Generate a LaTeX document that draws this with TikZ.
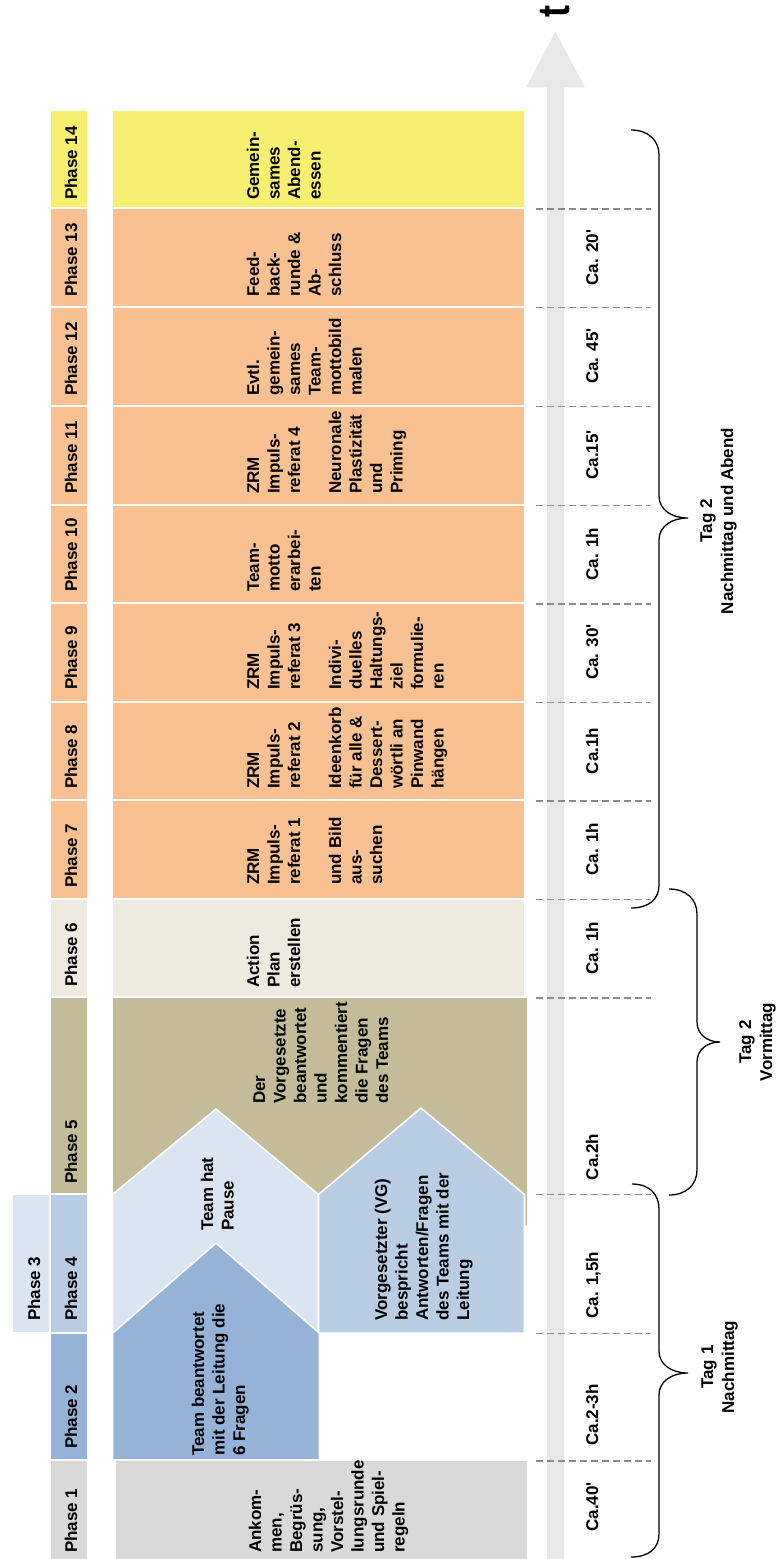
\documentclass[tikz,border=0pt]{standalone}
\usepackage{fontspec}
\setmainfont{Liberation Sans}
\newfontfamily\planfont{Liberation Sans}
\newcommand\planlines[1]{\parbox[t]{300pt}{\raggedright #1}}
\newcommand\plancenter[1]{\parbox[t]{300pt}{\centering #1}}

\definecolor{cYellow}{HTML}{F6EF6F}
\definecolor{cOrange}{HTML}{F9C191}
\definecolor{cBeige}{HTML}{EDEBE0}
\definecolor{cKhaki}{HTML}{C4BC98}
\definecolor{cBlueL}{HTML}{DBE5F1}
\definecolor{cBlueM}{HTML}{B9CDE5}
\definecolor{cBlueD}{HTML}{95B3D7}
\definecolor{cGray}{HTML}{D9D9D9}
\definecolor{cArrow}{HTML}{E8E8E8}
\definecolor{cDash}{HTML}{8C8C8C}

\begin{document}
\begin{tikzpicture}[x=1pt,y=-1pt,
  box/.style={draw=white, line width=1.6pt},
  plantext/.style={rotate=90, anchor=base west, inner sep=0pt,
    font=\planfont\bfseries\fontsize{17}{20.5}\selectfont},
  timetext/.style={rotate=90, anchor=base, inner sep=0pt,
    font=\planfont\bfseries\fontsize{17}{20.5}\selectfont},
  daytext/.style={rotate=90, anchor=base, inner sep=0pt,
    font=\planfont\bfseries\fontsize{17}{21}\selectfont},
  dashline/.style={draw=cDash, line width=1.8pt, dash pattern=on 7pt off 4pt},
  bracepath/.style={draw=black, line width=1.3pt}]

\useasboundingbox (0,0) rectangle (780,1559);

% time axis
\fill[cArrow] (547,1559) -- (547,87.3) -- (526,87.3) -- (555.5,31.7)
  -- (585,87.3) -- (564,87.3) -- (564,1559) -- cycle;
\node[rotate=90, anchor=base, inner sep=0pt] (taxis) at (569,11.5)
  {\scalebox{0.8}[1]{\fontsize{45}{45}\selectfont\bfseries t}};

% phase label column
\path[box, fill=cYellow] (50,110.2) rectangle (88,208.2);
\path[box, fill=cOrange] (50,208.2) rectangle (88,306.7);
\path[box, fill=cOrange] (50,306.7) rectangle (88,405.7);
\path[box, fill=cOrange] (50,405.7) rectangle (88,504.7);
\path[box, fill=cOrange] (50,504.7) rectangle (88,603.2);
\path[box, fill=cOrange] (50,603.2) rectangle (88,701.7);
\path[box, fill=cOrange] (50,701.7) rectangle (88,800.2);
\path[box, fill=cOrange] (50,800.2) rectangle (88,898.7);
\path[box, fill=cBeige]  (50,898.7) rectangle (88,997.2);
\path[box, fill=cKhaki]  (50,997.2) rectangle (88,1194.2);
\path[box, fill=cBlueM]  (50,1194.2) rectangle (88,1333.2);
\path[box, fill=cBlueL]  (12.5,1194.2) rectangle (50,1333.2);
\path[box, fill=cBlueD]  (50,1333.2) rectangle (88,1460.2);
\path[box, fill=cGray]   (50,1460.2) rectangle (88,1565);

% activity blocks
\path[box, fill=cYellow] (112.5,110.2) rectangle (524.5,208.2);
\path[box, fill=cOrange] (112.5,208.2) rectangle (524.5,306.7);
\path[box, fill=cOrange] (112.5,306.7) rectangle (524.5,405.7);
\path[box, fill=cOrange] (112.5,405.7) rectangle (524.5,504.7);
\path[box, fill=cOrange] (112.5,504.7) rectangle (524.5,603.2);
\path[box, fill=cOrange] (112.5,603.2) rectangle (524.5,701.7);
\path[box, fill=cOrange] (112.5,701.7) rectangle (524.5,800.2);
\path[box, fill=cOrange] (112.5,800.2) rectangle (524.5,898.7);
\path[box, fill=cBeige]  (112.5,898.7) rectangle (524.5,997.2);
\path[box, fill=cKhaki]  (112.5,997.2) rectangle (527.5,1226);
\path[box, fill=cBlueL] (112.5,1333.2) -- (112.5,1194.5) -- (216,1109)
  -- (318.5,1194.5) -- (318.5,1333.2) -- cycle;
\path[box, fill=cBlueM] (318.5,1333.2) -- (318.5,1194.5) -- (421,1108)
  -- (524.5,1194.5) -- (524.5,1333.2) -- cycle;
\path[box, fill=cBlueD] (112.5,1460.2) -- (112.5,1333.2) -- (216,1243)
  -- (319.5,1333.2) -- (319.5,1460.2) -- cycle;
\path[box, fill=cGray] (115,1460.2) rectangle (527.5,1565);

% phase labels
\node[plantext] (p14) at (77,200) {Phase 14};
\node[plantext] (p13) at (77,297) {Phase 13};
\node[plantext] (p12) at (77,396) {Phase 12};
\node[plantext] (p11) at (77,494) {Phase 11};
\node[plantext] (p10) at (77,592) {Phase 10};
\node[plantext] (p9)  at (77,690) {Phase 9};
\node[plantext] (p8)  at (77,789) {Phase 8};
\node[plantext] (p7)  at (77,888) {Phase 7};
\node[plantext] (p6)  at (77,987) {Phase 6};
\node[plantext] (p5)  at (77,1184) {Phase 5};
\node[plantext] (p4)  at (77,1321) {Phase 4};
\node[plantext] (p3)  at (40,1321) {Phase 3};
\node[plantext] (p2)  at (77,1449) {Phase 2};
\node[plantext] (p1)  at (77,1553) {Phase 1};

% activity texts
\node[plantext] (a14) at (259,200) {\planlines{Gemein-\\sames\\Abend-\\essen}};
\node[plantext] (a13) at (259,297) {\planlines{Feed-\\back-\\runde \&\\Ab-\\schluss}};
\node[plantext] (a12) at (259,396) {\planlines{Evtl.\\gemein-\\sames\\Team-\\mottobild\\malen}};
\node[plantext] (a11) at (259,494) {\planlines{ZRM\\Impuls-\\referat 4\\[20.5pt]Neuronale\\Plastizität\\und\\Priming}};
\node[plantext] (a10) at (259,592) {\planlines{Team-\\motto\\erarbei-\\ten}};
\node[plantext] (a9)  at (259,690) {\planlines{ZRM\\Impuls-\\referat 3\\[20.5pt]Indivi-\\duelles\\Haltungs-\\ziel\\formulie-\\ren}};
\node[plantext] (a8)  at (259,789) {\planlines{ZRM\\Impuls-\\referat 2\\[20.5pt]Ideenkorb\\für alle \&\\Dessert-\\wörtli an\\Pinwand\\hängen}};
\node[plantext] (a7)  at (259,885) {\planlines{ZRM\\Impuls-\\referat 1\\[20.5pt]und Bild\\aus-\\suchen}};
\node[plantext] (a6)  at (259,988) {\planlines{Action\\Plan\\erstellen}};
\node[plantext] (a5)  at (265,1104) {\planlines{Der\\Vorgesetzte\\beantwortet\\und\\kommentiert\\die Fragen\\des Teams}};
\node[plantext] (a4a) at (213,1231) {\planlines{Team hat\\Pause}};
\node[plantext] (a4b) at (387,1321) {\planlines{Vorgesetzter (VG)\\bespricht\\Antworten/Fragen\\des Teams mit der\\Leitung}};
\node[plantext] (a2)  at (204,1456) {\planlines{Team beantwortet\\mit der Leitung die\\6 Fragen}};
\node[plantext] (a1)  at (261,1553) {\planlines{Ankom-\\men,\\Begrüs-\\sung,\\Vorstel-\\lungsrunde\\und Spiel-\\regeln}};

% phase boundaries on the time axis
\foreach \yy in {208.9,307.4,406.4,505.4,603.9,702.4,800.9,899.4,997.9,1194.4,1333.4,1460.9}
  \draw[dashline] (536,\yy) -- (651,\yy);

% durations
\node[timetext] (d13) at (598,257.5) {Ca. 20'};
\node[timetext] (d12) at (598,356) {Ca. 45'};
\node[timetext] (d11) at (598,455) {Ca.15'};
\node[timetext] (d10) at (598,554) {Ca. 1h};
\node[timetext] (d9)  at (598,652) {Ca. 30'};
\node[timetext] (d8)  at (598,751) {Ca.1h};
\node[timetext] (d7)  at (598,849) {Ca. 1h};
\node[timetext] (d6)  at (598,948) {Ca. 1h};
\node[timetext] (d5)  at (598,1157) {Ca.2h};
\node[timetext] (d4)  at (598,1285) {Ca. 1,5h};
\node[timetext] (d2)  at (598,1415) {Ca.2-3h};
\node[timetext] (d1)  at (598,1507) {Ca.40'};

% day braces
\draw[bracepath] (631,130) .. controls (648,130) and (659,140) .. (659,155)
  -- (659,496) .. controls (659,510) and (672,518) .. (688,518)
  .. controls (672,518) and (659,526) .. (659,540)
  -- (659,885) .. controls (659,900) and (648,908) .. (631,908);
\draw[bracepath] (669,889) .. controls (686,889) and (697,899) .. (697,914)
  -- (697,1022) .. controls (697,1035) and (708,1042) .. (720,1042)
  .. controls (708,1042) and (697,1049) .. (697,1062)
  -- (697,1170) .. controls (697,1185) and (686,1195) .. (669,1195);
\draw[bracepath] (632,1184) .. controls (649,1184) and (659,1194) .. (659,1209)
  -- (659,1351) .. controls (659,1365) and (672,1373) .. (688,1373)
  .. controls (672,1373) and (659,1381) .. (659,1395)
  -- (659,1534) .. controls (659,1549) and (648,1557) .. (631,1557);

\node[daytext] (day2b) at (712,521) {\plancenter{Tag 2\\Nachmittag und Abend}};
\node[daytext] (day2a) at (751,1042) {\plancenter{Tag 2\\Vormittag}};
\node[daytext] (day1)  at (713,1367) {\plancenter{Tag 1\\Nachmittag}};
\end{tikzpicture}
\end{document}
